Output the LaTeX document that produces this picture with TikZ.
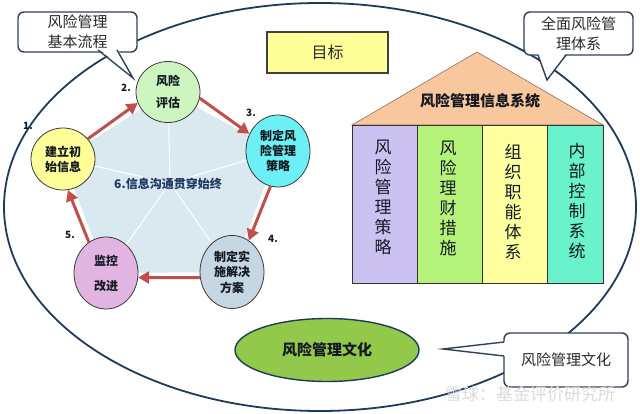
\documentclass[tikz,border=0pt]{standalone}
\usepackage{fontspec}
\setmainfont{Noto Sans CJK SC}
\usetikzlibrary{arrows.meta,shapes.geometric,calc}
\definecolor{outerbd}{HTML}{1F3B5C}
\definecolor{callbd}{HTML}{2F4058}
\definecolor{txtgray}{HTML}{2A2A2A}
\definecolor{txtdark}{HTML}{151A22}
\definecolor{navytxt}{HTML}{1F3864}
\definecolor{goalfill}{HTML}{FFFF99}
\definecolor{goalbd}{HTML}{3F3F3F}
\definecolor{rooffill}{HTML}{F9C79E}
\definecolor{roofbd}{HTML}{8A7060}
\definecolor{colA}{HTML}{CCC2F2}
\definecolor{colB}{HTML}{B5F27A}
\definecolor{colC}{HTML}{FFFFA0}
\definecolor{colD}{HTML}{6AF2CC}
\definecolor{colbd}{HTML}{333333}
\definecolor{cultfill}{HTML}{92C94A}
\definecolor{pentfill}{HTML}{DAE9EF}
\definecolor{arrred}{HTML}{C0504D}
\definecolor{circA}{HTML}{FFFF99}
\definecolor{circB}{HTML}{CCF5C0}
\definecolor{circC}{HTML}{6CF0F5}
\definecolor{circD}{HTML}{C4D7E2}
\definecolor{circE}{HTML}{E2B4E2}
\definecolor{circbd}{HTML}{3A3A3A}
\begin{document}
\begin{tikzpicture}[x=1pt,y=-1pt,
  stepcirc/.style={ellipse, draw=circbd, line width=0.8pt, inner sep=0pt,
    minimum width=64pt, font=\bfseries\fontsize{12}{15}\selectfont, align=center, text=txtdark},
  flow/.style={draw=arrred, line width=3pt, -{Triangle[length=11pt,width=12pt]}},
  callout/.style={draw=callbd, line width=1.4pt, fill=white, rounded corners=6pt,
    inner sep=0pt, align=center, font=\fontsize{15}{20}\selectfont, text=txtgray},
  pointer/.style={draw=callbd, line width=1.4pt, fill=white, line join=miter},
  numlbl/.style={font=\bfseries\fontsize{10}{12}\selectfont, text=txtdark},
  colbox/.style={draw=colbd, line width=0.8pt, minimum width=65pt, minimum height=158pt, inner sep=0pt},
  coltext/.style={align=center, font=\fontsize{17}{20}\selectfont, text=txtdark, inner sep=0pt}
]
\useasboundingbox (0,0) rectangle (640,414);
\fill[white] (0,0) rectangle (640,414);

% outer ellipse
\draw[outerbd, line width=1.8pt] (320,207) ellipse [x radius=316pt, y radius=204pt];

% goal box
\node[draw=goalbd, line width=1.4pt, fill=goalfill, minimum width=121pt, minimum height=41pt,
  font=\fontsize{16}{18}\selectfont, text=txtgray] (goal) at (327.5,52.5) {目标};

% house
\draw[fill=rooffill, draw=roofbd, line width=0.6pt] (352,125) -- (477,52) -- (603,125) -- cycle;
\node[font=\bfseries\fontsize{15}{18}\selectfont, text=txtdark] (roof) at (480,101) {风险管理信息系统};
\node[colbox, fill=colA] (p1) at (384.5,204) {};
\node[colbox, fill=colB] (p2) at (449.5,204) {};
\node[colbox, fill=colC] (p3) at (514.5,204) {};
\node[colbox, fill=colD, minimum width=56pt] (p4) at (575,204) {};
\node[coltext] (t1) at (383,197) {风\\险\\管\\理\\策\\略};
\node[coltext] (t2) at (448,198) {风\\险\\理\\财\\措\\施};
\node[coltext] (t3) at (513,202) {组\\织\\职\\能\\体\\系};
\node[coltext] (t4) at (577,201) {内\\部\\控\\制\\系\\统};

% culture ellipse
\node[ellipse, draw=outerbd, line width=1.4pt, fill=cultfill, minimum width=184pt, minimum height=63pt,
  inner sep=0pt, font=\bfseries\fontsize{15}{18}\selectfont, text=txtdark] (cult) at (327,350) {风险管理文化};

% pentagon
\coordinate (v1) at (63,159);
\coordinate (v2) at (168,92);
\coordinate (v3) at (278,151);
\coordinate (v4) at (232,272);
\coordinate (v5) at (106,273);
\coordinate (pc) at (170,183);
\fill[pentfill] (v1) -- (v2) -- (v3) -- (v4) -- (v5) -- cycle;
\foreach \v in {v1,v2,v3,v4,v5} \draw[white, line width=1pt] (pc) -- (\v);
\node[font=\bfseries\fontsize{12}{14}\selectfont, text=navytxt, fill=pentfill, inner sep=1pt] (info) at (168,184) {6.信息沟通贯穿始终};

% circles
\node[stepcirc, fill=circA, minimum height=62pt] (c1) at (v1) {建立初\\始信息};
\node[stepcirc, fill=circB, minimum height=61pt, font=\bfseries\fontsize{12}{22}\selectfont] (c2) at (v2) {风险\\评估};
\node[stepcirc, fill=circC, minimum height=72pt] (c3) at (v3) {制定风\\险管理\\策略};
\node[stepcirc, fill=circD, minimum height=73pt, font=\bfseries\fontsize{12}{15.5}\selectfont] (c4) at (v4) {制定实\\施解决\\方案};
\node[stepcirc, fill=circE, minimum height=72pt, font=\bfseries\fontsize{12}{25}\selectfont] (c5) at (v5) {监控\\改进};

% arrows
\draw[flow] (c1.39) -- (c2.200);
\draw[flow] (c2.-11) -- (c3.149);
\draw[flow] (c3.-102) -- (c4.62);
\draw[flow] (c4.190) -- (c5.-8);
\draw[flow] (c5.119) -- (c1.-81);

% numbers
\node[numlbl] (n1) at (28,126) {1.};
\node[numlbl] (n2) at (126,88) {2.};
\node[numlbl] (n3) at (251,113) {3.};
\node[numlbl] (n4) at (273,239) {4.};
\node[numlbl] (n5) at (70,235) {5.};

% callout 1
\coordinate (k1a) at (98,50);
\coordinate (k1t) at (133,78);
\coordinate (k1b) at (117,50);
\node[callout, minimum width=119pt, minimum height=40pt] (cb1) at (77.5,32) {风险管理\\基本流程};
\fill[white] ($(k1a)+(0,-2)$) -- (k1t) -- ($(k1b)+(0,-2)$) -- cycle;
\draw[pointer, fill=none] (k1a) -- (k1t) -- (k1b);

% callout 2
\coordinate (k2a) at (538,55);
\coordinate (k2t) at (547,80);
\coordinate (k2b) at (566,55);
\node[callout, minimum width=109pt, minimum height=43pt] (cb2) at (578.5,33.5) {全面风险管\\理体系};
\fill[white] ($(k2a)+(0,-2)$) -- (k2t) -- ($(k2b)+(0,-2)$) -- cycle;
\draw[pointer, fill=none] (k2a) -- (k2t) -- (k2b);

% callout 3
\coordinate (k3a) at (504,342);
\coordinate (k3t) at (443,349);
\coordinate (k3b) at (504,356);
\node[callout, minimum width=124pt, minimum height=54pt] (cb3) at (566,360) {风险管理文化};
\fill[white] ($(k3a)+(2,0)$) -- (k3t) -- ($(k3b)+(2,0)$) -- cycle;
\draw[pointer, fill=none] (k3a) -- (k3t) -- (k3b);

% watermark
\node[font=\fontsize{17}{20}\selectfont, text=gray!28] (wm) at (530,394) {雪球：基金评价研究所};
\end{tikzpicture}
\end{document}
